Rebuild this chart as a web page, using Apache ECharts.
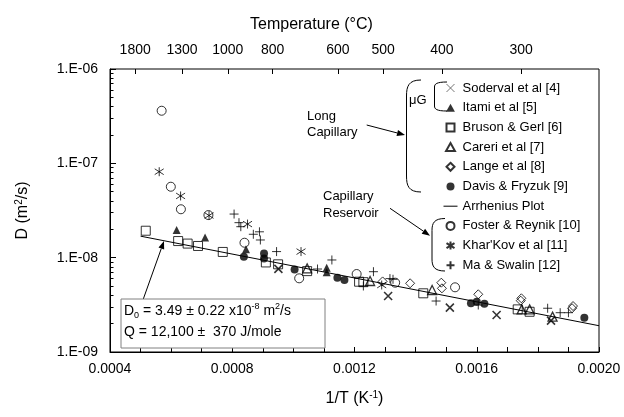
<!DOCTYPE html>
<html><head><meta charset="utf-8">
<script src="https://cdn.jsdelivr.net/npm/echarts@6/dist/echarts.min.js"></script>
<style>html,body{margin:0;padding:0;background:#fff}#c{width:624px;height:417px}</style>
</head><body><div id="c"></div>
<script>
const FONT = '"Liberation Sans", Arial, sans-serif';

// ---- data: [1/T (K^-1), D (m^2/s)] ----
const soderval = [[0.000951,7.6e-9],[0.001310,3.92e-9],[0.001512,2.95e-9],[0.001665,2.47e-9],[0.001843,2.15e-9]];
const itami = [[0.000618,1.96e-8],[0.000711,1.64e-8],[0.000845,1.23e-8],[0.001109,7.8e-9],[0.001109,7.0e-9]];
const bruson = [[0.000517,1.93e-8],[0.000623,1.50e-8],[0.000654,1.41e-8],[0.000688,1.33e-8],[0.000769,1.15e-8],[0.000910,8.9e-9],[0.000950,8.5e-9],[0.001045,7.2e-9],[0.001215,5.56e-9],[0.001229,5.5e-9],[0.001425,4.19e-9],[0.001734,2.83e-9],[0.001773,2.67e-9]];
const careri = [[0.001045,7.7e-9],[0.001251,5.66e-9],[0.001454,4.54e-9],[0.001747,2.83e-9],[0.001773,2.83e-9],[0.001848,2.37e-9]];
const lange = [[0.001292,5.6e-9],[0.001382,5.35e-9],[0.001484,5.43e-9],[0.001486,4.73e-9],[0.001605,4.09e-9],[0.001746,3.71e-9],[0.001744,3.50e-9],[0.001915,3.07e-9],[0.001912,2.91e-9]];
const davis = [[0.000838,1.02e-8],[0.000904,1.11e-8],[0.000904,9.8e-9],[0.001004,7.5e-9],[0.001144,6.13e-9],[0.001167,5.8e-9],[0.001581,3.28e-9],[0.001600,3.41e-9],[0.001625,3.25e-9],[0.001952,2.31e-9]];
const arrhenius = [[0.0005,1.69e-8],[0.0020,1.90e-9]];
const foster = [[0.000569,3.61e-7],[0.000599,5.65e-8],[0.000632,3.26e-8],[0.000722,2.83e-8],[0.000840,1.44e-8],[0.001019,6.04e-9],[0.001207,6.71e-9],[0.001333,5.43e-9],[0.001529,4.85e-9]];
const kharkov = [[0.000561,8.15e-8],[0.000631,4.51e-8],[0.000724,2.80e-8],[0.000850,2.27e-8],[0.001025,1.16e-8],[0.001289,5.13e-9]];
const maSwalin = [[0.000806,2.90e-8],[0.000822,2.35e-8],[0.000828,2.13e-8],[0.000869,1.77e-8],[0.000889,1.88e-8],[0.000892,1.54e-8],[0.000945,1.16e-8],[0.001079,7.58e-9],[0.001126,9.45e-9],[0.001262,7.1e-9],[0.001229,5.01e-9],[0.001316,6.0e-9],[0.001326,5.9e-9],[0.001467,3.47e-9],[0.001605,3.15e-9],[0.001832,2.91e-9],[0.001873,2.61e-9],[0.001900,2.61e-9]];

// ---- tick labels ----
const tempLabels = [1800,1300,1000,800,600,500,400,300]; // °C on top axis
const yDecades = [-9,-8,-7,-6];
const names = ['Soderval et al [4]','Itami et al [5]','Bruson & Gerl [6]','Careri et al [7]','Lange et al [8]','Davis & Fryzuk [9]','Arrhenius Plot','Foster & Reynik [10]',"Khar'Kov et al [11]",'Ma & Swalin [12]'];

const tempPos = tempLabels.map(t => 1/(t+273));
const yMinor = [];
yDecades.slice(0,3).forEach(e => { for (let m=2;m<=9;m++) yMinor.push(m*Math.pow(10,e)); });

const open = {color:'rgba(0,0,0,0)', borderColor:'#000', borderWidth:1};
const filled = {color:'#000', borderColor:'#000', borderWidth:0};
function sc(name, data, symbol, size, style){
  return {type:'scatter', name, data, symbol, symbolSize:size, itemStyle:style, xAxisIndex:0, yAxisIndex:0, z:3};
}
const P_CROSS='path://M0,0L10,10M10,0L0,10';
const P_PLUS='path://M5,0L5,10M0,5L10,5';
const P_AST='path://M5,0L5,10M0,1.8L10,8.2M0,8.2L10,1.8';
const P_SQ='path://M0,0L10,0L10,10L0,10Z';
const P_TRI='path://M5,0L10,9L0,9Z';
const P_DIA='path://M5,0L10,5L5,10L0,5Z';

const LS = {stroke:'#000', lineWidth:1, fill:null};
function arrow(x1,y1,x2,y2){
  const a=Math.atan2(y2-y1,x2-x1), L=8, W=3;
  const bx=x2-L*Math.cos(a), by=y2-L*Math.sin(a);
  const px=-Math.sin(a)*W, py=Math.cos(a)*W;
  return [
    {type:'line', shape:{x1,y1,x2:bx,y2:by}, style:{stroke:'#000',lineWidth:1}},
    {type:'polygon', shape:{points:[[x2,y2],[bx+px,by+py],[bx-px,by-py]]}, style:{fill:'#000'}}
  ];
}
function bracket(xe, yt, yb, xl, r){
  return [
    {type:'bezierCurve', shape:{x1:xe, y1:yt, cpx1:xl+2, cpy1:yt, cpx2:xl, cpy2:yt+r*0.4, x2:xl, y2:yt+r}, style:LS},
    {type:'line', shape:{x1:xl, y1:yt+r, x2:xl, y2:yb-r}, style:LS},
    {type:'bezierCurve', shape:{x1:xl, y1:yb-r, cpx1:xl, cpy1:yb-r*0.4, cpx2:xl+2, cpy2:yb, x2:xe, y2:yb}, style:LS}
  ];
}
function txt(x,y,t,size){ return {type:'text', x, y, style:{text:t, font:(size||13)+'px '+FONT, fill:'#000', textVerticalAlign:'middle'}}; }

const legendData = names.map((n,i) => {
  if (i === 6) return {name:n, itemStyle:{color:'rgba(0,0,0,0)', borderColor:'rgba(0,0,0,0)', borderWidth:0}, lineStyle:{color:'#000', width:1}};
  if (i === 0) return {name:n, itemStyle:{color:'rgba(0,0,0,0)', borderColor:'#555', borderWidth:1}};
  return {name:n};
});

const chart = echarts.init(document.getElementById('c'), null, {renderer:'canvas'});
chart.setOption({
  animation:false,
  backgroundColor:'#fff',
  textStyle:{fontFamily:FONT},
  title:{text:'Temperature (°C)', left:245, top:12, textStyle:{fontSize:16, fontWeight:'normal', color:'#000', fontFamily:FONT}},
  grid:{left:110, right:25, top:69, bottom:65, show:true, borderColor:'#000', borderWidth:1, backgroundColor:'rgba(0,0,0,0)'},
  xAxis:[{
    type:'value', min:0.0004, max:0.002, interval:0.0004, position:'bottom',
    name:'1/T (K{sup|-1})', nameLocation:'middle', nameGap:38,
    nameTextStyle:{fontSize:16, color:'#000', fontFamily:FONT, rich:{sup:{fontSize:10, verticalAlign:'top', lineHeight:18, fontFamily:FONT}}},
    axisLine:{show:true, lineStyle:{color:'#000', width:1}},
    axisTick:{show:true, inside:true, length:5, lineStyle:{color:'#000'}},
    minorTick:{show:true, splitNumber:4, length:5, lineStyle:{color:'#000'}},
    axisLabel:{fontSize:14, color:'#000', margin:10, formatter:v=>v.toFixed(4), fontFamily:FONT},
    splitLine:{show:false}, minorSplitLine:{show:false}
  },{
    type:'value', min:0.0004, max:0.002, position:'top',
    axisLine:{show:false},
    axisTick:{show:true, inside:true, length:5, customValues:tempPos, lineStyle:{color:'#000'}},
    axisLabel:{show:true, fontSize:14, color:'#000', margin:12, customValues:tempPos, fontFamily:FONT,
      formatter:v=>String(Math.round((1/v-273)/100)*100)},
    splitLine:{show:false}
  }],
  yAxis:[{
    type:'log', logBase:10, min:1e-9, max:1e-6, position:'left',
    name:'D (m{sup|2}/s)', nameLocation:'middle', nameGap:78, nameRotate:90,
    nameTextStyle:{fontSize:16, color:'#000', fontFamily:FONT, rich:{sup:{fontSize:10, verticalAlign:'top', lineHeight:18, fontFamily:FONT}}},
    axisLine:{show:true, lineStyle:{color:'#000'}},
    axisTick:{show:true, inside:true, length:6, lineStyle:{color:'#000'}},
    axisLabel:{fontSize:14, color:'#000', margin:12, fontFamily:FONT,
      formatter:v=>{const e=Math.round(Math.log10(v)); return '1.E-'+String(-e).padStart(2,'0');}},
    splitLine:{show:false}
  },{
    type:'log', logBase:10, min:1e-9, max:1e-6, position:'left',
    axisLine:{show:false},
    axisTick:{show:true, inside:true, length:3.5, customValues:yMinor, lineStyle:{color:'#000'}},
    axisLabel:{show:false},
    splitLine:{show:false}
  }],
  legend:{
    orient:'vertical', left:443, top:81, padding:0, itemWidth:14, itemHeight:8, itemGap:5.7,
    symbolKeepAspect:true, selectedMode:false, data:legendData,
    textStyle:{fontSize:13, color:'#000', fontFamily:FONT, lineHeight:14}
  },
  series:[
    sc(names[0], soderval, P_CROSS, 8, {color:'rgba(0,0,0,0)', borderColor:'#000', borderWidth:1.6}),
    sc(names[1], itami, P_TRI, 8, filled),
    sc(names[2], bruson, P_SQ, 9, open),
    sc(names[3], careri, P_TRI, 9, {color:'rgba(0,0,0,0)', borderColor:'#000', borderWidth:1.3}),
    sc(names[4], lange, P_DIA, 9, open),
    sc(names[5], davis, 'circle', 8, filled),
    {type:'line', name:names[6], data:arrhenius, symbol:'none', showSymbol:false, lineStyle:{color:'#000', width:1}, itemStyle:{color:'#000'}, z:2},
    sc(names[7], foster, 'circle', 9, open),
    sc(names[8], kharkov, P_AST, 9, {color:'rgba(0,0,0,0)', borderColor:'#000', borderWidth:1}),
    sc(names[9], maSwalin, P_PLUS, 9, {color:'rgba(0,0,0,0)', borderColor:'#000', borderWidth:1})
  ],
  graphic:[
    txt(307,116.7,'Long'), txt(307,132.3,'Capillary'),
    txt(323,196.7,'Capillary'), txt(323,213.3,'Reservoir'),
    txt(409,100,'μG'),
    ...bracket(421, 80, 192, 406.5, 16),
    ...bracket(447, 82, 111, 434.5, 5),
    ...bracket(445, 218.5, 271, 432, 12),
    ...arrow(366.7,125,405,135),
    ...arrow(390,208.3,430,235.7),
    ...arrow(143.3,299,164,241),
    {type:'rect', shape:{x:121, y:299, width:204, height:49}, style:{fill:'#fff', stroke:'#808080', lineWidth:1}, z:10},
    {type:'text', x:124, y:311, z:11, style:{
      text:'{t|D}{sub|0}{t| = 3.49 ± 0.22 x10}{sup|-8}{t| m}{sup|2}{t|/s}', textVerticalAlign:'middle',
      rich:{t:{fontSize:14, fontFamily:FONT, fill:'#000', lineHeight:18}, sub:{fontSize:9, fontFamily:FONT, fill:'#000', verticalAlign:'bottom', lineHeight:14}, sup:{fontSize:9, fontFamily:FONT, fill:'#000', verticalAlign:'top', lineHeight:14}}
    }},
    {type:'text', x:124, y:332.5, z:11, style:{text:'Q = 12,100 ±  370 J/mole', font:'14px '+FONT, fill:'#000', textVerticalAlign:'middle'}}
  ]
});
</script></body></html>
